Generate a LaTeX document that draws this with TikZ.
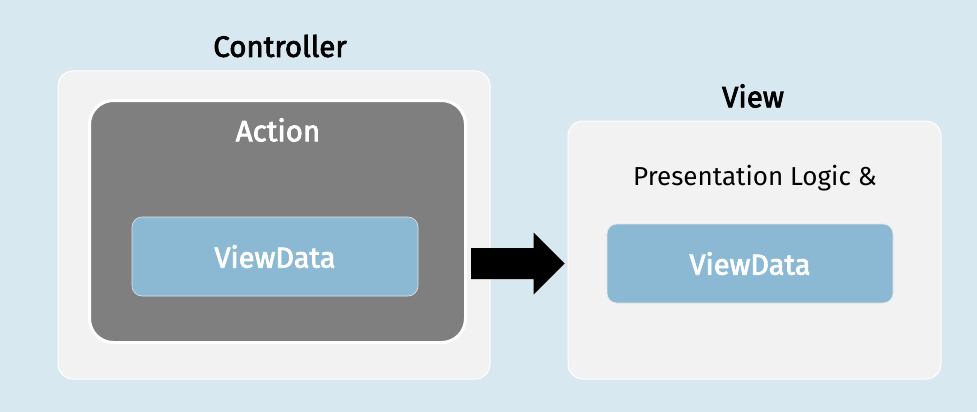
\documentclass[tikz,border=0pt]{standalone}
\usepackage{fontspec}
\setmainfont{Fira Sans}
\newfontfamily\medfont{Fira Sans}[FakeBold=2.5]
\usetikzlibrary{calc}
\definecolor{bgblue}{HTML}{D7E8F1}
\definecolor{boxgray}{HTML}{F2F2F2}
\definecolor{actgray}{HTML}{7F7F7F}
\definecolor{vdblue}{HTML}{8BB9D4}
\begin{document}
\begin{tikzpicture}[x=1pt,y=-1pt,
  outerbox/.style={draw=white,line width=1pt,fill=boxgray,rounded corners=15pt,inner sep=0pt},
  actbox/.style={draw=white,line width=3pt,fill=actgray,rounded corners=24pt,inner sep=0pt},
  databox/.style={draw=white!80!gray,line width=0.6pt,fill=vdblue,rounded corners=10pt,inner sep=0pt,
    text=white,font=\fontsize{29}{34}\medfont},
  title/.style={inner sep=0pt,font=\fontsize{29.5}{34}\medfont},
  fatarrow/.style={fill=black}]
\fill[bgblue] (0,0) rectangle (977,412);
\useasboundingbox (0,0) rectangle (977,412);
\node[outerbox,minimum width=432pt,minimum height=308pt] (ctrl) at (274,225) {};
\node[actbox,minimum width=376pt,minimum height=242pt] (act) at (277.5,221.5) {};
\node[databox,minimum width=286pt,minimum height=79pt] (vd1) at (275,256.5) {ViewData};
\node[outerbox,minimum width=373pt,minimum height=258pt] (view) at (754.5,250) {};
\node[databox,minimum width=286pt,minimum height=79pt] (vd2) at (750,263.5) {ViewData};
\node[title] (ctrlt) at (280,46) {Controller};
\node[title] (viewt) at (753,96) {View};
\node[title,text=white] (actt) at (278,130) {Action};
\node[inner sep=0pt,font=\fontsize{26}{31}\selectfont] (pres) at (755,178) {Presentation Logic \&};
\coordinate (a0) at ($(act.east |- vd2.center)+(4,0)$);
\coordinate (a1) at ($(view.west |- vd2.center)+(-3,0)$);
\fill[fatarrow] ($(a0)+(0,-15.5)$) -- ($(a1)+(-31,-15.5)$) -- ($(a1)+(-31,-31)$) -- (a1) -- ($(a1)+(-31,31)$) -- ($(a1)+(-31,15.5)$) -- ($(a0)+(0,15.5)$) -- cycle;
\end{tikzpicture}
\end{document}
